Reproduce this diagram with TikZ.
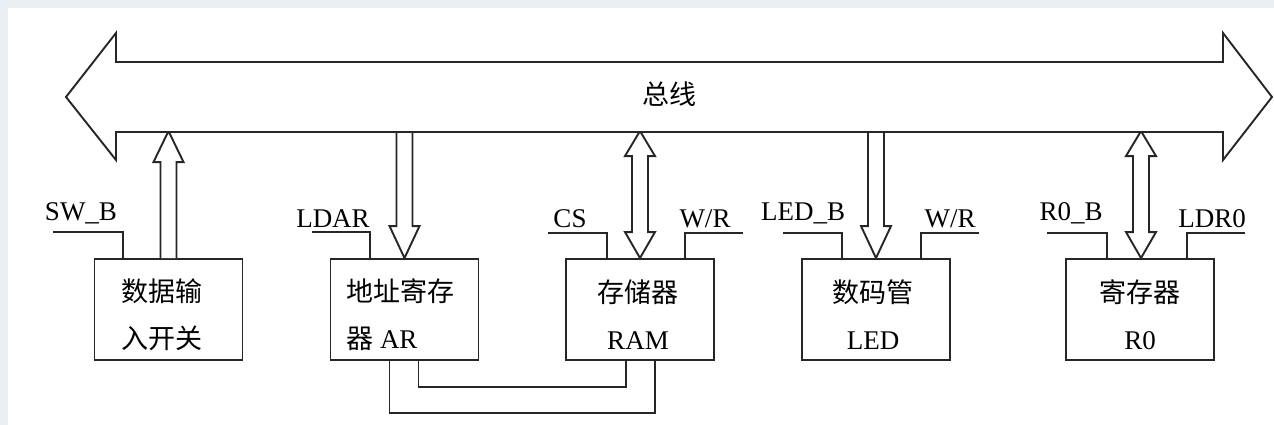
\documentclass[tikz,border=0pt]{standalone}
\usepackage{fontspec}
\setmainfont{Liberation Serif}
\newfontfamily\cjk{Noto Sans CJK SC}
\usetikzlibrary{calc}
\definecolor{bg}{HTML}{EAEFF4}
\definecolor{ln}{HTML}{262626}
\begin{document}
\begin{tikzpicture}[x=1pt,y=-1pt,
  line width=1.9pt,
  box/.style={draw=ln, fill=white, minimum width=148pt, minimum height=101pt, inner sep=0pt},
  txt/.style={align=center, font=\cjk\fontsize{27}{47}\selectfont, inner sep=0pt},
  sig/.style={font=\fontsize{27}{30}\selectfont, anchor=base, inner sep=0pt},
  wire/.style={draw=ln, line width=1.9pt},
  blk/.style={draw=ln, fill=white, line width=1.9pt, line join=miter}]
\useasboundingbox (0,0) rectangle (1274,425);
\fill[bg] (0,0) rectangle (1274,425);
\fill[white] (8,8) rectangle (1274,425);

% boxes
\node[box] (sw)  at (168.5,309.5) {};
\node[box] (ar)  at (404.5,309.5) {};
\node[box] (ram) at (640,309.5) {};
\node[box] (led) at (876,309.5) {};
\node[box] (r0)  at (1140,309.5) {};

\node[txt] (swt)  at (162,314.5) {数据输\\入开关};
\node[txt, align=left, anchor=west] (art) at (346,314.5) {地址寄存\\器 {\rmfamily AR}};
\node[txt] (ramt) at (638,314.5) {存储器\\{\rmfamily RAM}};
\node[txt] (ledt) at (873,314.5) {数码管\\{\rmfamily LED}};
\node[txt] (r0t)  at (1140,314.5) {寄存器\\{\rmfamily R0}};

% block arrows
\draw[blk] ($(sw.north)+(-8,0)$) -- ++(0,-96) -- ++(-7,0) -- ($(sw.north)+(0,-127)$)
  -- ($(sw.north)+(15,-96)$) -- ++(-7,0) -- ($(sw.north)+(8,0)$);
\draw[blk] ($(ar.north)+(-8,-127)$) -- ++(0,95) -- ++(-7,0) -- (ar.north)
  -- ($(ar.north)+(15,-32)$) -- ++(-7,0) -- ($(ar.north)+(8,-127)$);
\draw[blk] ($(led.north)+(-8,-127)$) -- ++(0,95) -- ++(-7,0) -- (led.north)
  -- ($(led.north)+(15,-32)$) -- ++(-7,0) -- ($(led.north)+(8,-127)$);
\draw[blk] (ram.north) -- ++(-15,-26) -- ++(7,0) -- ++(0,-76) -- ++(-7,0)
  -- ($(ram.north)+(0,-127)$) -- ++(15,25) -- ++(-7,0) -- ++(0,76) -- ++(7,0) -- cycle;
\draw[blk] ($(r0.north)+(1,0)$) -- ++(-15,-26) -- ++(7,0) -- ++(0,-76) -- ++(-7,0)
  -- ($(r0.north)+(1,-127)$) -- ++(15,25) -- ++(-7,0) -- ++(0,76) -- ++(7,0) -- cycle;

% bus
\path[blk] (116,62) -- (1223,62) -- (1223,33) -- (1272,97) -- (1223,160) -- (1223,132)
  -- (116,132) -- (116,160) -- (66,97) -- (116,33) -- cycle;
\node[font=\cjk\fontsize{27}{30}\selectfont, inner sep=0pt] (bus) at (669.5,94) {总线};

% control signals
\coordinate (cSW)  at (53,232);
\coordinate (cLD)  at (312,232);
\coordinate (cCS)  at (548,233);
\coordinate (cWR1) at (743,233);
\coordinate (cLB)  at (783,233);
\coordinate (cWR2) at (979,233);
\coordinate (cRB)  at (1047,233);
\coordinate (cLR)  at (1245,233);
\draw[wire] (cSW)  -| ($(sw.north west)+(29,0)$);
\draw[wire] (cLD)  -| ($(ar.north west)+(40,0)$);
\draw[wire] (cCS)  -| ($(ram.north west)+(42,0)$);
\draw[wire] (cWR1) -| ($(ram.north east)+(-30,0)$);
\draw[wire] (cLB)  -| ($(led.north west)+(41,0)$);
\draw[wire] (cWR2) -| ($(led.north east)+(-30,0)$);
\draw[wire] (cRB)  -| ($(r0.north west)+(42,0)$);
\draw[wire] (cLR)  -| ($(r0.north east)+(-28,0)$);

\node[sig] (lSW)  at (81,220)   {SW\_B};
\node[sig] (lLD)  at (333,227)  {LDAR};
\node[sig] (lCS)  at (570,227)  {CS};
\node[sig] (lWR1) at (705,227)  {W/R};
\node[sig] (lLB)  at (803,220)  {LED\_B};
\node[sig] (lWR2) at (950,227)  {W/R};
\node[sig] (lRB)  at (1071,220) {R0\_B};
\node[sig] (lLR)  at (1212,227) {LDR0};

% AR <-> RAM connections
\draw[wire] ($(ar.south)+(14,0)$) |- ($(ram.south)+(-14,26)$) -- ($(ram.south)+(-14,0)$);
\draw[wire] ($(ar.south)+(-15,0)$) |- ($(ram.south)+(15,52)$) -- ($(ram.south)+(15,0)$);
\end{tikzpicture}
\end{document}
